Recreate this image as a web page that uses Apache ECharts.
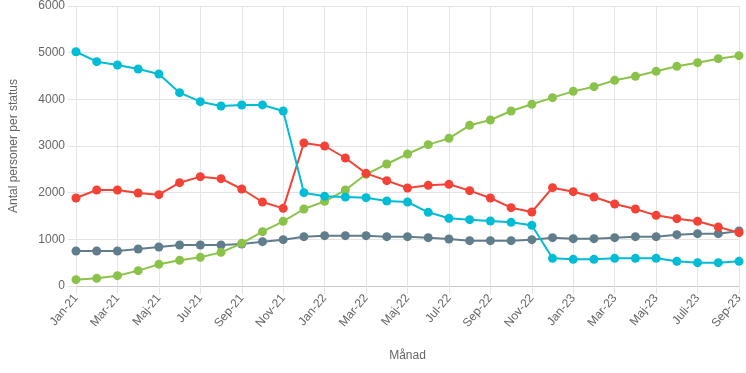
<!DOCTYPE html>
<html><head><meta charset="utf-8">
<script src="https://cdn.jsdelivr.net/npm/echarts@6/dist/echarts.min.js"></script>
<style>html,body{margin:0;padding:0;background:#fff}#c{width:746px;height:373px}</style>
</head><body><div id="c"></div>
<script>
const categories = ["Jan-21","Feb-21","Mar-21","Apr-21","Maj-21","Jun-21","Jul-21","Aug-21","Sep-21","Okt-21","Nov-21","Dec-21",
"Jan-22","Feb-22","Mar-22","Apr-22","Maj-22","Jun-22","Jul-22","Aug-22","Sep-22","Okt-22","Nov-22","Dec-22",
"Jan-23","Feb-23","Mar-23","Apr-23","Maj-23","Jun-23","Juli-23","Aug-23","Sep-23"];
const cyanValues = [5020,4807,4736,4650,4543,4143,3950,3857,3879,3880,3750,2000,1921,1907,1893,1821,1800,1579,1450,1421,1393,1364,1300,593,571,571,593,593,593,529,500,500,529];
const redValues = [1886,2057,2057,1993,1957,2214,2343,2300,2079,1800,1664,3064,3000,2743,2414,2257,2100,2157,2179,2043,1886,1679,1586,2107,2021,1907,1757,1650,1514,1443,1386,1264,1143];
const greenValues = [136,164,221,329,464,550,614,721,914,1164,1386,1650,1814,2057,2393,2614,2829,3029,3164,3443,3557,3750,3893,4036,4171,4271,4407,4493,4600,4707,4786,4871,4936];
const grayValues = [750,750,750,793,836,879,879,879,900,950,993,1057,1079,1079,1079,1057,1057,1036,1007,971,971,971,993,1036,1014,1014,1036,1057,1057,1100,1121,1121,1179];
const yTicks = {min:0, max:6000, interval:1000};

const font = "Liberation Sans, Arial, sans-serif";
function s(name, data, color, z){
  return {name, type:'line', data, z, symbol:'circle', symbolSize:9,
    lineStyle:{color, width:2}, itemStyle:{color}, emphasis:{disabled:true}};
}
const chart = echarts.init(document.getElementById('c'), null, {renderer:'canvas'});
chart.setOption({
  animation:false,
  grid:{left:72, right:7, top:6, bottom:87, containLabel:false},
  xAxis:{type:'category', data:categories, boundaryGap:false,
    name:'Månad', nameLocation:'middle', nameGap:64,
    nameTextStyle:{color:'#666', fontSize:12, fontFamily:font},
    axisLine:{lineStyle:{color:'#c8c8c8'}},
    axisTick:{show:true, interval:1, length:8, lineStyle:{color:'#e4e4e4'}},
    axisLabel:{interval:1, rotate:50, color:'#666', fontSize:12, fontFamily:font, margin:10},
    splitLine:{show:true, interval:1, lineStyle:{color:'#e4e4e4'}}},
  yAxis:{type:'value', min:yTicks.min, max:yTicks.max, interval:yTicks.interval,
    name:'Antal personer per status', nameLocation:'middle', nameGap:56,
    nameTextStyle:{color:'#666', fontSize:12, fontFamily:font},
    axisLine:{show:true, lineStyle:{color:'#e4e4e4'}},
    axisTick:{show:true, length:8, lineStyle:{color:'#e4e4e4'}},
    axisLabel:{color:'#666', fontSize:12, fontFamily:font, margin:11, formatter:v=>String(v)},
    splitLine:{lineStyle:{color:'#e4e4e4'}}},
  series:[
    s('Grå', grayValues, '#607d8b', 2),
    s('Grön', greenValues, '#8bc34a', 3),
    s('Röd', redValues, '#f44336', 4),
    s('Cyan', cyanValues, '#00bcd4', 5)
  ]
});
</script></body></html>
